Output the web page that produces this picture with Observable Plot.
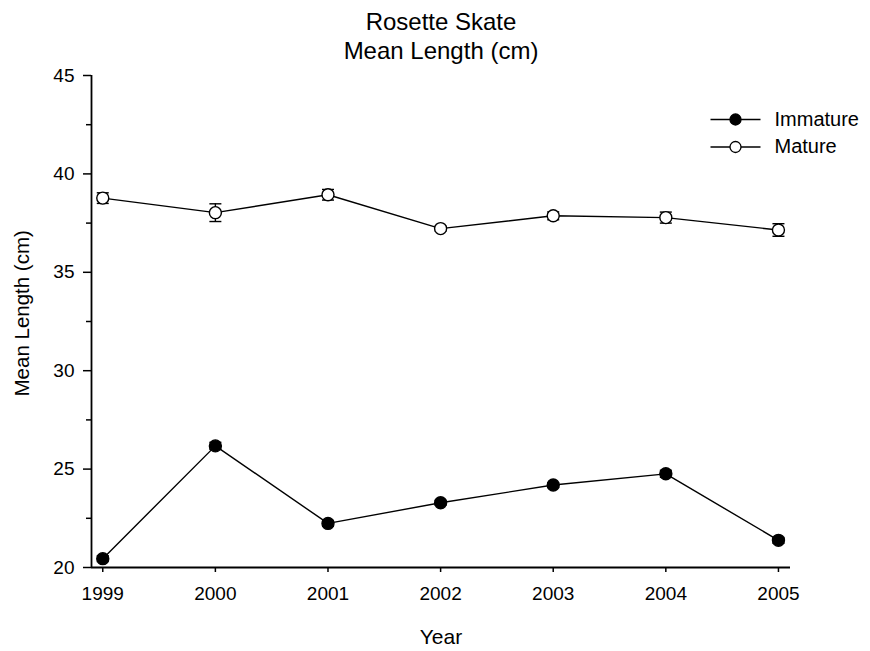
<!DOCTYPE html>
<html>
<head>
<meta charset="utf-8">
<script src="https://cdn.jsdelivr.net/npm/d3@7"></script>
<script src="https://cdn.jsdelivr.net/npm/@observablehq/plot@0.6"></script>
<style>
  html, body { margin: 0; padding: 0; background: white; }
</style>
</head>
<body>
<div id="chart"></div>
<script>
const years = [1999, 2000, 2001, 2002, 2003, 2004, 2005];
const immatureMean = [20.45, 26.18, 22.24, 23.29, 24.19, 24.76, 21.38];
const immatureSE   = [0.15, 0.18, 0.15, 0.12, 0.12, 0.18, 0.15];
const matureMean   = [38.77, 38.03, 38.94, 37.22, 37.87, 37.78, 37.15];
const matureSE     = [0.27, 0.45, 0.27, 0.12, 0.20, 0.28, 0.32];
const seriesNames  = ["Immature", "Mature"];
const yTicks       = [20, 25, 30, 35, 40, 45];
const yMinorTicks  = [22.5, 27.5, 32.5, 37.5, 42.5];
const xTicks       = years;
const titleLines   = ["Rosette Skate", "Mean Length (cm)"];
const xLabel       = "Year";
const yLabel       = "Mean Length (cm)";

const xDomain = [1998.9, 2005.107];
const yDomain = [20, 45];

const rows = [];
years.forEach((yr, i) => {
  rows.push({year: yr, series: seriesNames[0], mean: immatureMean[i], se: immatureSE[i]});
  rows.push({year: yr, series: seriesNames[1], mean: matureMean[i], se: matureSE[i]});
});

const fillOf = s => s === "Immature" ? "black" : "white";

const capSymbol = {
  draw(context) { context.moveTo(-6, 0); context.lineTo(6, 0); }
};
const legendLineSymbol = {
  draw(context) { context.moveTo(-25, 0); context.lineTo(25, 0); }
};

const font = "'Liberation Sans', Arial, Helvetica, sans-serif";

const legendMarks = seriesNames.flatMap((s, i) => [
  Plot.dot([s], {frameAnchor: "top-right", dx: -55, dy: 44 + i * 27.5, symbol: legendLineSymbol, r: 5, stroke: "black", strokeWidth: 1.3, fill: "none"}),
  Plot.dot([s], {frameAnchor: "top-right", dx: -55, dy: 44 + i * 27.5, r: 5.5, stroke: "black", strokeWidth: 1.3, fill: fillOf(s)}),
  Plot.text([s], {frameAnchor: "top-right", dx: -16, dy: 44 + i * 27.5, text: d => d, textAnchor: "start", lineAnchor: "middle", fontSize: 20, fill: "black"})
]);

const chart = Plot.plot({
  width: 870,
  height: 651,
  marginLeft: 91,
  marginRight: 80,
  marginTop: 75,
  marginBottom: 84,
  x: {domain: xDomain},
  y: {domain: yDomain},
  style: {fontFamily: font, background: "white", color: "black"},
  marks: [
    Plot.axisY(yTicks, {tickSize: 8, tickPadding: 9, fontSize: 19, strokeWidth: 1.5, label: null, tickFormat: d => String(d)}),
    Plot.axisY(yMinorTicks, {tickSize: 5, strokeWidth: 1.5, label: null, tickFormat: () => ""}),
    Plot.axisX(xTicks, {tickSize: 5, tickPadding: 14, fontSize: 19, strokeWidth: 1.5, label: null, tickFormat: d => String(d)}),
    Plot.ruleX([xDomain[0]], {stroke: "black", strokeWidth: 1.8}),
    Plot.ruleY([yDomain[0]], {stroke: "black", strokeWidth: 1.8}),
    Plot.line(rows, {x: "year", y: "mean", z: "series", stroke: "black", strokeWidth: 1.4}),
    Plot.ruleX(rows, {x: "year", y1: d => d.mean - d.se, y2: d => d.mean + d.se, stroke: "black", strokeWidth: 1.4}),
    Plot.dot(rows, {x: "year", y: d => d.mean - d.se, symbol: capSymbol, r: 5, stroke: "black", strokeWidth: 1.4, fill: "none"}),
    Plot.dot(rows, {x: "year", y: d => d.mean + d.se, symbol: capSymbol, r: 5, stroke: "black", strokeWidth: 1.4, fill: "none"}),
    Plot.dot(rows, {x: "year", y: "mean", r: 6, stroke: "black", strokeWidth: 1.4, fill: d => fillOf(d.series)}),
    ...legendMarks,
    Plot.text([titleLines.join("\n")], {frameAnchor: "top", dy: -66, text: d => d, lineAnchor: "top", lineHeight: 1.2, fontSize: 24, fill: "black"}),
    Plot.text([xLabel], {frameAnchor: "bottom", dy: 62, text: d => d, lineAnchor: "top", fontSize: 21, fill: "black"}),
    Plot.text([yLabel], {frameAnchor: "left", dx: -69, dy: 75, rotate: -90, text: d => d, lineAnchor: "middle", fontSize: 20.5, fill: "black"})
  ]
});

document.getElementById("chart").appendChild(chart);
</script>
</body>
</html>
